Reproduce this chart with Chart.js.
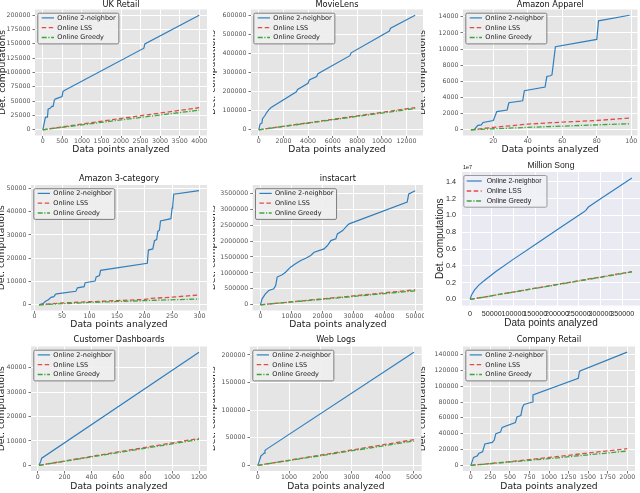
<!DOCTYPE html>
<html><head><meta charset="utf-8">
<script src="https://cdn.jsdelivr.net/npm/chart.js@4.4.1/dist/chart.umd.min.js"></script>
<style>
html,body{margin:0;padding:0;background:#fff;width:640px;height:493px;overflow:hidden;position:relative;}
.tile{position:absolute;overflow:hidden;}
.tile canvas{position:absolute;}
</style></head><body>
<script>
// ---------- text ----------
const seriesNames = ['Online 2-neighbor', 'Online LSS', 'Online Greedy'];
const panelTitles = ['UK Retail', 'MovieLens', 'Amazon Apparel', 'Amazon 3-category', 'instacart',
  'Million Song', 'Customer Dashboards', 'Web Logs', 'Company Retail'];
const xAxisLabel = 'Data points analyzed';
const yAxisLabel = 'Det. computations';

// ---------- data: [x, y] ----------
// UK Retail
const ukRetailXTicks = [0, 500, 1000, 1500, 2000, 2500, 3000, 3500, 4000];
const ukRetailYTicks = [0, 25000, 50000, 75000, 100000, 125000, 150000, 175000, 200000];
const ukRetailNeighbor = [[0,0],[68,22100],[119,22100],[136,36000],[195,37800],[229,40700],[263,40700],[297,52300],[330,54000],[492,58000],[517,66900],[551,68600],[2585,142400],[2610,150000],[4000,200000]];
const ukRetailLSS = [[0,0],[1000,10000],[2000,19800],[3000,29200],[4000,38500]];
const ukRetailGreedy = [[0,0],[1000,8600],[2000,17200],[3000,25800],[4000,34200]];

// MovieLens
const movieLensXTicks = [0, 2000, 4000, 6000, 8000, 10000, 12000];
const movieLensYTicks = [0, 100000, 200000, 300000, 400000, 500000, 600000];
const movieLensNeighbor = [[0,0],[100,30000],[250,35000],[300,58000],[500,75000],[650,92000],[800,105000],[1000,117000],[3050,200000],[3150,212000],[4000,245000],[4100,262000],[4700,280000],[4800,295000],[7400,390000],[7500,405000],[10600,520000],[10700,535000],[12700,603000]];
const movieLensLSS = [[0,0],[6000,55000],[12700,117000]];
const movieLensGreedy = [[0,0],[6000,52500],[12700,112000]];

// Amazon Apparel
const apparelXTicks = [20, 40, 60, 80, 100];
const apparelYTicks = [0, 2000, 4000, 6000, 8000, 10000, 12000, 14000];
const apparelNeighbor = [[7,0],[9,50],[11,550],[13,600],[14,900],[20,1150],[22,2250],[28,2450],[29,3350],[37,3600],[38,4850],[50,5300],[51,6600],[53,6700],[54,6800],[56,10300],[80,11200],[81,13500],[99,14200]];
const apparelLSS = [[7,0],[20,300],[40,700],[60,950],[80,1150],[99,1450]];
const apparelGreedy = [[7,0],[40,300],[70,530],[99,750]];

// Amazon 3-category
const threeCatXTicks = [0, 50, 100, 150, 200, 250, 300];
const threeCatYTicks = [0, 10000, 20000, 30000, 40000, 50000];
const threeCatNeighbor = [[8,0],[15,500],[20,1500],[25,2200],[30,3200],[35,3500],[38,4500],[40,4700],[75,5800],[78,7300],[90,7800],[92,9500],[110,10200],[112,12000],[118,12600],[120,14800],[205,17800],[207,23500],[215,24000],[218,27500],[222,28000],[224,31500],[227,32000],[229,36000],[248,37000],[250,41500],[251,42000],[253,47500],[299,49000]];
const threeCatLSS = [[8,0],[50,800],[100,1300],[150,1800],[200,2300],[210,2700],[250,3300],[299,4200]];
const threeCatGreedy = [[8,0],[100,1000],[200,1800],[299,2500]];

// instacart
const instacartXTicks = [0, 10000, 20000, 30000, 40000, 50000];
const instacartYTicks = [0, 500000, 1000000, 1500000, 2000000, 2500000, 3000000, 3500000];
const instacartNeighbor = [[0,0],[540,188000],[1600,345000],[2700,450000],[4300,500000],[4900,600000],[5400,870000],[7000,940000],[8100,1020000],[9700,1180000],[11300,1285000],[13000,1390000],[14600,1460000],[16200,1550000],[17300,1650000],[20500,1755000],[21600,1860000],[22700,2015000],[24300,2070000],[24800,2225000],[26500,2330000],[28000,2490000],[28600,2540000],[47300,3220000],[47800,3480000],[49900,3580000]];
const instacartLSS = [[0,0],[25000,232000],[49900,470000]];
const instacartGreedy = [[0,0],[25000,218000],[49900,440000]];

// Million Song
const songXTicks = [0, 50000, 100000, 150000, 200000, 250000, 300000, 350000];
const songYTicks = [0, 2000000, 4000000, 6000000, 8000000, 10000000, 12000000, 14000000];
const songNeighbor = [[0,0],[3000,500000],[10000,1100000],[20000,1700000],[35000,2350000],[60000,3350000],[100000,4800000],[150000,6550000],[200000,8300000],[262000,10450000],[266000,10600000],[272000,11000000],[300000,12000000],[372000,14450000]];
const songLSS = [[0,0],[186000,1660000],[372000,3320000]];
const songGreedy = [[0,0],[186000,1630000],[372000,3270000]];

// Customer Dashboards
const dashXTicks = [0, 200, 400, 600, 800, 1000, 1200];
const dashYTicks = [0, 10000, 20000, 30000, 40000];
const dashNeighbor = [[10,0],[22,1500],[30,2900],[1200,46300]];
const dashLSS = [[10,0],[600,5500],[1200,11000]];
const dashGreedy = [[10,0],[600,5200],[1200,10600]];

// Web Logs
const webXTicks = [0, 1000, 2000, 3000, 4000, 5000];
const webYTicks = [0, 50000, 100000, 150000, 200000];
const webNeighbor = [[0,0],[30,5000],[60,10000],[100,17000],[150,19500],[200,22000],[230,27000],[260,28500],[5000,205000]];
const webLSS = [[0,0],[2500,23000],[5000,46500]];
const webGreedy = [[0,0],[2500,21800],[5000,44000]];

// Company Retail
const companyXTicks = [0, 250, 500, 750, 1000, 1250, 1500, 1750, 2000];
const companyYTicks = [0, 20000, 40000, 60000, 80000, 100000, 120000, 140000];
const companyNeighbor = [[0,0],[35,10000],[85,12000],[100,15000],[150,17000],[180,27000],[275,29000],[300,32000],[320,40000],[380,42000],[400,48000],[570,54000],[590,61000],[640,63000],[660,73000],[680,77000],[790,80000],[795,89000],[1375,110000],[1390,119000],[2000,143000]];
const companyLSS = [[0,0],[500,4600],[1000,10000],[1500,15500],[2000,21000]];
const companyGreedy = [[0,0],[1000,8500],[2000,18000]];

// ---------- styles ----------
const seriesStyles = [
  {color: '#2f7fbf', width: 1.2, dash: []},
  {color: '#e24a4a', width: 1.3, dash: [4.5, 2.5]},
  {color: '#3aa83a', width: 1.3, dash: [5, 1.6, 1.2, 1.6]}
];
const GG = {family: 'DejaVu Sans', bg: '#E5E5E5', tick: 6.3, title: 8.2, label: 9.2, legend: 6.5,
  tickColor: '#555555', titleColor: '#111', labelColor: '#222', tickMark: '#777', tickLen: 2.5,
  yPad: 2, xPad: 0.5, legendFill: 'rgba(238,238,238,0.9)', legendEdge: '#7d7d7d',
  lg: {dx: 2.3, dy: 3.2, padL: 4.4, sample: 12.3, gap: 3.3, padR: 2.6, padT: 0.3, padB: 1, row: 9.8}};
const SB = {family: 'Liberation Sans', bg: '#EAEAF2', tick: 7.2, title: 8.6, label: 10, legend: 6.9,
  tickColor: '#262626', titleColor: '#262626', labelColor: '#262626', tickMark: '#262626', tickLen: 0,
  yPad: 6, xPad: 5.2, legendFill: 'rgba(240,240,246,0.9)', legendEdge: '#9a9a9a', offsetText: '1e7',
  lg: {dx: 1.3, dy: 3, padL: 3.4, sample: 15, gap: 5, padR: 5, padT: 1, padB: 0.7, row: 10}};

const panels = [
  {series: [ukRetailNeighbor, ukRetailLSS, ukRetailGreedy], xt: ukRetailXTicks, yt: ukRetailYTicks, st: GG,
   tile: [0,0,213,160], L: 35, T: 9.5, R: 207, B: 135.5, tc: 5, xc: 150, yc: 2.5},
  {series: [movieLensNeighbor, movieLensLSS, movieLensGreedy], xt: movieLensXTicks, yt: movieLensYTicks, st: GG,
   tile: [213,0,424,160], L: 251, T: 9.5, R: 423, B: 135.5, tc: 5, xc: 150, yc: 212.5},
  {series: [apparelNeighbor, apparelLSS, apparelGreedy], xt: apparelXTicks, yt: apparelYTicks, st: GG,
   tile: [421,0,640,160], L: 463, T: 9.5, R: 637.5, B: 135.5, tc: 5, xc: 150, yc: 422.5},
  {series: [threeCatNeighbor, threeCatLSS, threeCatGreedy], xt: threeCatXTicks, yt: threeCatYTicks, st: GG,
   tile: [0,160,213,330], L: 31, T: 185, R: 207, B: 310.5, tc: 179, xc: 324.5, yc: 2},
  {series: [instacartNeighbor, instacartLSS, instacartGreedy], xt: instacartXTicks, yt: instacartYTicks, st: GG,
   tile: [213,160,424,330], L: 252.7, T: 185, R: 423, B: 310.5, tc: 179, xc: 324.5, yc: 212.5},
  {series: [songNeighbor, songLSS, songGreedy], xt: songXTicks, yt: songYTicks, st: SB, yScale: 1e7,
   tile: [421,160,640,330], L: 462, T: 172, R: 640, B: 305.5, tc: 165.7, xc: 323.3, yc: 440},
  {series: [dashNeighbor, dashLSS, dashGreedy], xt: dashXTicks, yt: dashYTicks, st: GG,
   tile: [0,330,213,493], L: 31, T: 346.5, R: 207, B: 471, tc: 340, xc: 487, yc: 1.5},
  {series: [webNeighbor, webLSS, webGreedy], xt: webXTicks, yt: webYTicks, st: GG,
   tile: [213,330,424,493], L: 250, T: 346.5, R: 421.7, B: 471, tc: 340, xc: 487, yc: 212.5},
  {series: [companyNeighbor, companyLSS, companyGreedy], xt: companyXTicks, yt: companyYTicks, st: GG,
   tile: [421,330,640,493], L: 463, T: 346.5, R: 635, B: 471, tc: 340, xc: 487, yc: 422.5}
];

// ---------- plugins ----------
const plotBg = {
  id: 'plotBg',
  beforeDraw(chart, args, o) {
    const a = chart.chartArea, c = chart.ctx;
    c.save(); c.fillStyle = o.color; c.fillRect(a.left, a.top, a.width, a.height); c.restore();
  }
};
const frameLegend = {
  id: 'frameLegend',
  afterDatasetsDraw(chart, args, o) {
    const c = chart.ctx, a = chart.chartArea, g = o.geom;
    const ds = chart.data.datasets;
    c.save();
    c.font = o.size + 'px "' + o.family + '"';
    const tw = Math.max(...ds.map(d => c.measureText(d.label).width));
    const x0 = a.left + g.dx, y0 = a.top + g.dy;
    const w = g.padL + g.sample + g.gap + tw + g.padR;
    const h = g.padT + ds.length * g.row + g.padB;
    c.beginPath();
    if (c.roundRect) c.roundRect(x0 + 0.5, y0 + 0.5, w, h, 1.5); else c.rect(x0 + 0.5, y0 + 0.5, w, h);
    c.fillStyle = o.fill; c.fill();
    c.lineWidth = 1; c.strokeStyle = o.edge; c.stroke();
    ds.forEach((d, i) => {
      const y = y0 + g.padT + g.row * (i + 0.5);
      c.beginPath();
      c.strokeStyle = d.borderColor; c.lineWidth = d.borderWidth;
      c.setLineDash(d.borderDash || []);
      c.moveTo(x0 + g.padL, y); c.lineTo(x0 + g.padL + g.sample, y); c.stroke();
      c.setLineDash([]);
      c.fillStyle = o.color; c.textBaseline = 'middle'; c.textAlign = 'left';
      c.fillText(d.label, x0 + g.padL + g.sample + g.gap, y + 0.3);
    });
    c.restore();
  },
  afterDraw(chart, args, o) {
    if (!o.offsetText) return;
    const c = chart.ctx, a = chart.chartArea;
    c.save();
    c.font = '5.5px "' + o.family + '"'; c.fillStyle = o.color;
    c.textBaseline = 'middle'; c.textAlign = 'left';
    c.fillText(o.offsetText, a.left + 1, a.top - 5);
    c.restore();
  }
};

function extent(series, k) {
  let lo = Infinity, hi = -Infinity;
  series.forEach(s => s.forEach(p => { lo = Math.min(lo, p[k]); hi = Math.max(hi, p[k]); }));
  const m = (hi - lo) * 0.05;
  return [lo - m, hi + m];
}

panels.forEach((p, idx) => {
  const st = p.st;
  const tile = document.createElement('div');
  tile.className = 'tile';
  tile.style.left = p.tile[0] + 'px'; tile.style.top = p.tile[1] + 'px';
  tile.style.width = (p.tile[2] - p.tile[0]) + 'px'; tile.style.height = (p.tile[3] - p.tile[1]) + 'px';
  document.body.appendChild(tile);

  const cx = Math.floor(p.yc - st.label / 2), yTitlePad = p.yc - st.label / 2 - cx;
  const cy = Math.floor(p.tc - st.title / 2), titlePadTop = p.tc - st.title / 2 - cy;
  const cw = Math.ceil(p.R - cx) + 4, padRight = cw - (p.R - cx);
  const ch = Math.ceil(p.xc + st.label / 2 - cy), xTitlePad = ch - st.label / 2 - (p.xc - cy);
  const YW = p.L - cx, XH = ch - (p.B - cy);
  const titlePadBottom = p.T - cy - st.title - titlePadTop;

  const cv = document.createElement('canvas');
  cv.width = cw; cv.height = ch;
  cv.style.width = cw + 'px'; cv.style.height = ch + 'px';
  cv.style.left = (cx - p.tile[0]) + 'px'; cv.style.top = (cy - p.tile[1]) + 'px';
  tile.appendChild(cv);

  const [xmin, xmax] = extent(p.series, 0);
  const [ymin, ymax] = extent(p.series, 1);
  const datasets = p.series.map((s, i) => ({
    label: seriesNames[i],
    data: s.map(q => ({x: q[0], y: q[1]})),
    borderColor: seriesStyles[i].color,
    borderWidth: seriesStyles[i].width,
    borderDash: seriesStyles[i].dash,
    pointRadius: 0, fill: false, tension: 0,
    order: 2 - i
  }));
  const tickFont = {family: st.family, size: st.tick, lineHeight: 1};
  const gridCommon = {color: '#ffffff', lineWidth: 1, drawTicks: st.tickLen > 0, tickLength: st.tickLen,
    tickColor: st.tickMark, tickWidth: 1};
  new Chart(cv, {
    type: 'line',
    data: {datasets},
    options: {
      responsive: false, animation: false, devicePixelRatio: 1, events: [],
      layout: {padding: {left: 0, top: 0, bottom: 0, right: padRight}, autoPadding: false},
      scales: {
        x: {
          type: 'linear', position: 'bottom', min: xmin, max: xmax,
          afterBuildTicks: s => { s.ticks = p.xt.map(v => ({value: v})); },
          afterFit: s => { s.height = XH; },
          ticks: {autoSkip: false, maxRotation: 0, minRotation: 0, padding: st.xPad, color: st.tickColor,
            font: tickFont, callback: v => String(v)},
          grid: gridCommon, border: {display: false},
          title: {display: true, text: xAxisLabel, color: st.labelColor,
            font: {family: st.family, size: st.label, lineHeight: 1}, padding: {top: 0, bottom: xTitlePad}}
        },
        y: {
          type: 'linear', position: 'left', min: ymin, max: ymax,
          afterBuildTicks: s => { s.ticks = p.yt.map(v => ({value: v})); },
          afterFit: s => { s.width = YW; },
          ticks: {autoSkip: false, padding: st.yPad, color: st.tickColor, font: tickFont,
            callback: v => p.yScale ? (v / p.yScale).toFixed(1) : String(v)},
          grid: gridCommon, border: {display: false},
          title: {display: true, text: yAxisLabel, color: st.labelColor,
            font: {family: st.family, size: st.label, lineHeight: 1}, padding: {top: yTitlePad, bottom: 0}}
        }
      },
      plugins: {
        legend: {display: false}, tooltip: {enabled: false},
        title: {display: true, text: panelTitles[idx], fullSize: false, color: st.titleColor,
          font: {family: st.family, size: st.title, weight: 'normal', lineHeight: 1},
          padding: {top: titlePadTop, bottom: Math.max(titlePadBottom, 0)}},
        plotBg: {color: st.bg},
        frameLegend: {geom: st.lg, size: st.legend, family: st.family, color: '#1a1a1a',
          fill: st.legendFill, edge: st.legendEdge, offsetText: st.offsetText}
      }
    },
    plugins: [plotBg, frameLegend]
  });
});
</script>
</body></html>
